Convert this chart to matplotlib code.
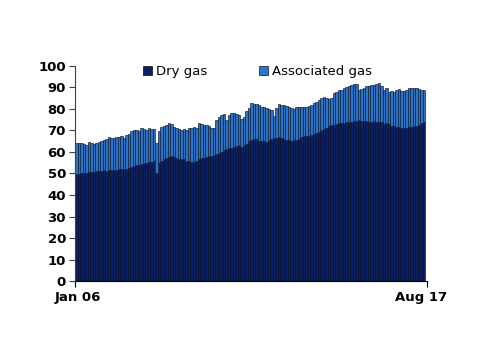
import numpy as np
import matplotlib
matplotlib.use("Agg")
from matplotlib import pyplot as plt
from matplotlib.patches import Patch

# monthly totals (dry + associated), Jan 2006 .. Aug 2017
total = [
    64.0, 64.2, 64.3, 63.6, 63.3, 64.5, 64.0, 63.7, 64.3, 64.8, 65.2, 65.6,  # 2006
    66.0, 67.1, 66.5, 66.4, 67.0, 66.8, 67.4, 66.6, 67.9, 68.4, 69.5, 70.0,  # 2007
    70.2, 69.8, 71.0, 70.6, 70.0, 71.0, 70.8, 70.5, 64.0, 69.5, 71.8, 72.0,  # 2008
    72.5, 73.6, 73.0, 71.8, 71.0, 70.6, 70.0, 70.5, 70.3, 71.0, 71.2, 71.6,  # 2009
    71.3, 73.3, 73.0, 72.6, 72.6, 72.0, 71.1, 71.0, 74.7, 76.3, 77.0, 77.5,  # 2010
    74.9, 77.0, 78.3, 78.0, 77.5, 77.2, 75.5, 76.4, 79.0, 80.3, 82.6, 82.4,  # 2011
    82.2, 81.6, 81.1, 80.8, 80.3, 79.9, 79.5, 76.9, 80.5, 82.2, 81.9, 81.7,  # 2012
    81.3, 81.1, 80.5, 80.0, 81.0, 81.1, 80.8, 81.0, 80.8, 81.4, 81.9, 82.6,  # 2013
    83.4, 84.2, 85.0, 85.7, 85.2, 84.7, 85.0, 87.6, 88.0, 88.8, 89.0, 89.6,  # 2014
    90.0, 90.5, 91.2, 91.5, 91.6, 88.8, 89.2, 89.6, 90.8, 90.7, 91.0, 91.2,  # 2015
    91.5, 92.0, 90.8, 88.8, 89.5, 88.0, 88.2, 87.8, 88.6, 89.3, 88.5, 88.3,  # 2016
    89.0, 89.9, 89.6, 89.9, 89.6, 89.3, 88.8, 89.0,                          # 2017
]

dry_gas = [
    49.8, 49.6, 50.0, 50.2, 50.4, 50.6, 50.8, 50.8, 51.0, 51.2, 51.0, 51.4,
    51.2, 51.6, 51.6, 51.8, 51.5, 52.0, 52.2, 52.0, 52.3, 52.4, 53.0, 53.5,
    53.8, 54.0, 54.5, 54.7, 55.0, 55.3, 55.5, 55.6, 50.0, 55.0, 56.0, 56.8,
    57.2, 57.8, 58.1, 57.5, 57.2, 56.8, 56.6, 56.8, 56.0, 55.8, 55.5, 55.5,
    56.0, 56.5, 57.0, 57.2, 57.6, 58.0, 58.0, 58.4, 59.0, 59.6, 60.2, 61.0,
    61.4, 61.7, 62.0, 62.5, 62.8, 63.0, 62.5, 63.3, 63.6, 65.0, 65.6, 65.9,
    65.8, 65.3, 65.0, 65.2, 64.8, 65.5, 66.0, 66.4, 66.6, 66.9, 66.6, 65.8,
    65.6, 65.5, 65.3, 65.6, 65.7, 65.9, 67.1, 67.2, 67.4, 67.6, 67.9, 68.5,
    69.0, 69.4, 70.0, 70.5, 71.2, 72.1, 72.4, 72.6, 73.0, 73.3, 73.5, 73.6,
    73.8, 74.0, 74.1, 74.3, 74.4, 74.8, 74.5, 74.6, 74.4, 74.1, 74.1, 74.2,
    74.0, 74.1, 73.8, 73.0, 73.3, 72.8, 72.1, 72.0, 71.8, 71.6, 71.3, 71.0,
    71.3, 71.8, 71.6, 72.0, 72.1, 72.6, 73.6, 73.8,
]

x_labels = ["Jan 06", "Aug 17"]
y_ticks = [0, 10, 20, 30, 40, 50, 60, 70, 80, 90, 100]

dry_color = "#0b1f63"
assoc_color = "#2d74c8"

total = np.array(total)
dry = np.array(dry_gas)
assoc = total - dry
x = np.arange(len(total))

fig = plt.figure(figsize=(5, 3.54), dpi=100)
ax = fig.add_axes([0.15, 0.206, 0.704, 0.608])

ax.bar(x, dry, width=1.0, color=dry_color, edgecolor="#040920", linewidth=0.45)
ax.bar(x, assoc, width=1.0, bottom=dry, color=assoc_color, edgecolor="#0a1530", linewidth=0.45)

ax.set_ylim(0, 100)
ax.set_xlim(-0.5, 140.3)
ax.set_yticks(y_ticks)
ax.set_yticklabels([str(v) for v in y_ticks], fontweight="bold", fontsize=9.5)
ax.tick_params(axis="y", direction="out", length=4, width=0.8, color="#404040", pad=2.5)

# tick marks at both ends, labels slightly inside
ax.set_xticks([-0.5, 140.3], minor=True)
ax.set_xticks([0.8, 138])
ax.set_xticklabels(x_labels, fontweight="bold", fontsize=9.5)
ax.tick_params(axis="x", which="major", length=0, pad=7)
ax.tick_params(axis="x", which="minor", direction="out", length=4, width=0.8, color="black")

for s in ["top", "right"]:
    ax.spines[s].set_visible(False)
ax.spines["left"].set_color("#404040")
ax.spines["bottom"].set_color("black")

handles = [Patch(facecolor=dry_color, edgecolor="#040920", linewidth=0.5, label="Dry gas"),
           Patch(facecolor=assoc_color, edgecolor="#0a1530", linewidth=0.5, label="Associated gas")]
ax.legend(handles=handles, loc="upper center", bbox_to_anchor=(0.518, 1.06), ncol=2, frameon=False,
          fontsize=9.5, handlelength=0.7, handleheight=0.7, handletextpad=0.3, columnspacing=3.9)

fig.savefig("out.png", dpi=100)
